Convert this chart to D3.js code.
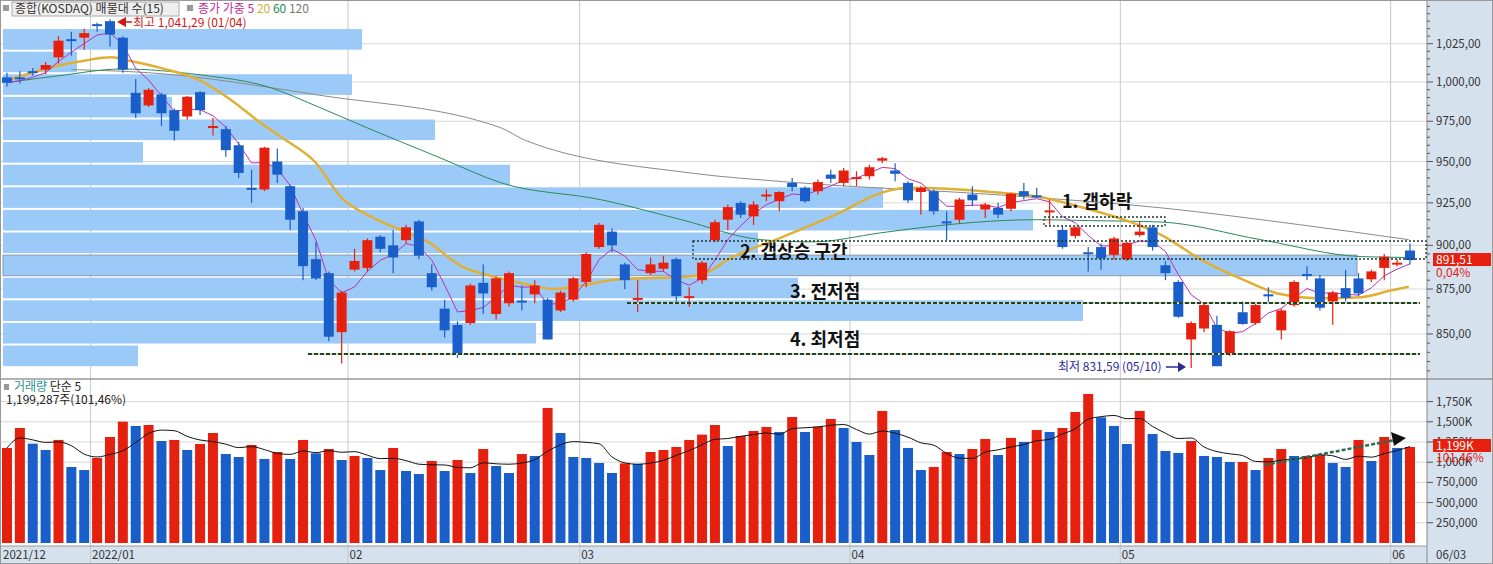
<!DOCTYPE html>
<html><head><meta charset="utf-8">
<script src="https://cdn.jsdelivr.net/npm/d3@7"></script>
<style>body{margin:0;background:#fff}svg{display:block;font-family:"Noto Sans CJK KR","Noto Sans",sans-serif}</style>
</head><body><svg id="c" width="1493" height="564"></svg>
<script>
const openP=[1003,1003,1007,1008,1016,1028,1029,1038,1040,1029,993,985,992,982,978,993.5,971,970,960,934,933,950,935,920,892,884,851,886,887,905,900,903,914,884,864,855,856,878.5,861,867,868.5,872,869,863,869,879,899,908,889,869,884,886.5,892,870,880,903,915,925,917,929.5,926,937,934,932,942,937,940,941,950.5,944.5,937,931.5,932,914,915,930,921,922,921.5,932,929.5,920,909,905.5,896,899,894.5,892,906,910.5,888.5,879,847,853,855,839,862,856,872,852,866,883.5,881,868,875.5,881,880.5,887,889.5,897];
const highP=[1006,1007,1009,1013,1030,1033,1035,1039,1041.29,1030,1002,996,993,983,991,994,977,972,962,945,959,958,936,922,902,885,874,898,904,906,909,912,915,889,869,857,878,889,882,885,877,880,870,874,882,896,913,910,890,880,893,894,893,876,891,915,924,926,926,933,932,940,935,939,945,946,944,948,953,949,938,935,933,920,928,935,925,925,931,937,934,927,911,911,899,901,905,902,914,912,891,880,857,867,860,852,868,867,876,864,880,888,883,874,886,884,886,895,892,901];
const lowP=[997,999,1004,1005,1012,1017,1021,1033,1023,1006,977,984,972,963,976,979,966,953,940,925,932,937,909,880,880,846,834,885,885,896,884,901,892,874,848,837,855,861,858,865,863,867,847,862,868,876,898,896,875,862,883,885,868,865,878,902,909,916,912,926,920,932,925,930,937,935,935,939,949,938,925,918,918,903,913,923,916,916,920,927,928,912,898,904,885,886,892,891,905,897,880,859,831.59,851,833,838,855,855,867,847,865,880,863,855,868,871,879,880,888,889];
const closeP=[999.5,1002,1006,1011,1027,1027,1032,1037.5,1031,1008,980,995,980,969,990.5,982,972,957,943,933.5,958.5,942,915,888,881,848.5,873,891,903,898,893,910.5,894,876,852,839.5,877,872.5,881,884,868,877,847,873,881,895,912,900,880,870,889,890,871,871,890,913.5,922.5,918,924,930,931.5,934.5,926,937.5,939.5,944.5,940.5,946.5,952,942.5,926.5,934,920,913.5,927,926.5,924,918,930.5,929,929,920.5,899,910.5,895.5,892.5,904,901.5,908,899,884,859.5,856,866,832.5,851.5,855.5,866,871.5,863,879,883,864.5,873,870,872.5,885,893.5,890,891.51];
const volumeK=[1176,1423,1229,1151,1275,941,903,1052,1312,1502,1448,1460,1262,1275,1151,1225,1361,1101,1064,1213,1040,1126,1040,1275,1110,1163,1027,1077,1052,903,1176,891,854,1015,891,1027,866,1163,953,866,1101,1077,1671,1361,1064,1052,990,866,986,978,1126,1151,1188,1275,1341,1460,1200,1324,1386,1436,1374,1559,1374,1440,1535,1423,1250,1089,1634,1398,1176,903,941,1126,1101,1163,1287,1089,1300,1250,1398,1374,1423,1621,1844,1555,1448,1225,1634,1349,1139,1114,1262,1077,1064,1002,1002,903,1052,1163,1077,1077,1089,990,941,1275,1015,1312,1176,1188];
const ma20Pts=[[0,1001],[4.2,1011],[6.1,1014],[8.1,1016],[9.1,1014.5],[12,1009],[15,1001],[17.4,988.5],[19.7,974],[21.5,964],[23.9,950],[26,928],[28.5,916],[30.6,909],[32.7,902],[35.3,888],[37.8,882],[40.2,878],[42.5,875],[44.6,877],[47.7,880.7],[52.4,881.8],[53.9,883],[56.3,893],[60.1,904.4],[64.8,919.5],[67.9,931],[70.2,934],[74,933],[77.2,931],[80.3,928.5],[83.4,922.5],[87.3,913.6],[89.7,906],[92.8,891.6],[95.9,880.7],[99,872],[102.1,869.8],[105.2,870.4],[107.5,874.2],[108.9,876.3]];
const ma60Pts=[[0.3,1000],[4,1004],[8.9,1008.4],[15.1,1004.5],[20.3,996.8],[24.2,984],[28,970.8],[33.7,952.1],[38.4,937],[46.2,926.8],[52.4,915],[58.6,903.3],[62.5,902],[67.9,907.3],[70.2,909.6],[80,915],[84,914.5],[89.7,913.6],[97.4,903.3],[105.2,893.5],[108.9,893]];
const ma120Pts=[[5,1008],[11,1006],[24.2,991.6],[38.4,970.8],[40.2,963.3],[53.1,943],[60.7,937.5],[77.2,929.7],[89.7,922],[100.5,912],[108.9,903.3]];
const profileVol=[359,74,349,169,432,140,507,880,1030,755,1354,795,1080,533,135];
const profileTop=1035.4, profileBottom=832;
const monthIdx=[7,27,45,66,87,108];
const monthLbl=["2022/01","02","03","04","05","06"];
const priceTicks=[850,875,900,925,950,975,1000,1025];
const volTicks=[250,500,750,1000,1250,1500,1750];

const svg=d3.select("#c");
const RED="#e5200e",BLUE="#1a5ec9";
const x=d3.scaleLinear().domain([0,109]).range([7,1410]);
const y=d3.scaleLog().domain([826.2,1054.3]).range([378,0]);
const yv=d3.scaleLinear().domain([0,2017]).range([543,380]);
const n=closeP.length;
// frame
svg.append("rect").attr("x",1427).attr("y",0).attr("width",66).attr("height",564).attr("fill","#d6e1ee");
svg.append("rect").attr("x",0).attr("y",546).attr("width",1427).attr("height",18).attr("fill","#d6e1ee");
// grid
const g=svg.append("g");
priceTicks.forEach(t=>g.append("line").attr("x1",0).attr("x2",1427).attr("y1",y(t)).attr("y2",y(t)).attr("stroke","#d8d8d8"));
volTicks.forEach(t=>g.append("line").attr("x1",0).attr("x2",1427).attr("y1",yv(t)).attr("y2",yv(t)).attr("stroke","#d8d8d8"));
monthIdx.forEach(i=>g.append("line").attr("x1",x(i)-6.5).attr("x2",x(i)-6.5).attr("y1",0).attr("y2",564).attr("stroke","#c8c8c8"));
// volume profile
const pb=d3.range(16).map(k=>Math.exp(Math.log(profileTop)-k*(Math.log(profileTop)-Math.log(profileBottom))/15));
const pw=d3.scaleLinear().domain([0,1400]).range([0,1400]);
profileVol.forEach((v,k)=>{
  svg.append("rect").attr("x",3).attr("y",y(pb[k])+1).attr("width",pw(v)).attr("height",y(pb[k+1])-y(pb[k])-2)
   .attr("fill","#9ccaf8").attr("stroke",v===d3.max(profileVol)?"#8a9aaa":"none");
});
// MAs
const line=d3.line().x(d=>x(d[0])).y(d=>y(d[1])).curve(d3.curveMonotoneX);
svg.append("path").attr("d",line(ma120Pts)).attr("fill","none").attr("stroke","#8a8a8a").attr("stroke-width",1);
svg.append("path").attr("d",line(ma60Pts)).attr("fill","none").attr("stroke","#2a8a5a").attr("stroke-width",1);
svg.append("path").attr("d",line(ma20Pts)).attr("fill","none").attr("stroke","#e0b035").attr("stroke-width",2.5);
const wma=closeP.map((c,i)=>{let s=0,w=0;for(let k=0;k<5&&i-k>=0;k++){s+=closeP[i-k]*(5-k);w+=5-k;}return [i,s/w];});
svg.append("path").attr("d",d3.line().x(d=>x(d[0])).y(d=>y(d[1]))(wma)).attr("fill","none").attr("stroke","#b82fb8").attr("stroke-width",1);
// candles
for(let i=0;i<n;i++){
  const up=closeP[i]>=openP[i], col=up?RED:BLUE, cx=x(i);
  svg.append("line").attr("x1",cx).attr("x2",cx).attr("y1",y(highP[i])).attr("y2",y(lowP[i])).attr("stroke",col).attr("stroke-width",1.2);
  const t=y(Math.max(openP[i],closeP[i])),b=y(Math.min(openP[i],closeP[i]));
  svg.append("rect").attr("x",cx-5).attr("y",t).attr("width",10).attr("height",Math.max(2,b-t)).attr("fill",col);
}
// volume bars
for(let i=0;i<n;i++){
  const col=(i===0||volumeK[i]>=volumeK[i-1])?RED:BLUE;
  svg.append("rect").attr("x",x(i)-5).attr("y",yv(volumeK[i])).attr("width",10).attr("height",yv(0)-yv(volumeK[i])).attr("fill",col);
}
const vma=volumeK.map((v,i)=>{const s=volumeK.slice(Math.max(0,i-4),i+1);return [i,d3.mean(s)];});
svg.append("path").attr("d",d3.line().x(d=>x(d[0])).y(d=>yv(d[1])).curve(d3.curveMonotoneX)(vma)).attr("fill","none").attr("stroke","#111").attr("stroke-width",1);
// panel separator
svg.append("line").attr("x1",0).attr("x2",1493).attr("y1",379).attr("y2",379).attr("stroke","#999").attr("stroke-width",1.5);
svg.append("line").attr("x1",1427).attr("x2",1427).attr("y1",0).attr("y2",564).attr("stroke","#888");
svg.append("line").attr("x1",0).attr("x2",1427).attr("y1",546).attr("y2",546).attr("stroke","#999");
svg.append("rect").attr("x",0.5).attr("y",0.5).attr("width",1492).attr("height",563).attr("fill","none").attr("stroke","#999");
// dashed annotations
function dash(x1,y1,x2,y2){
  svg.append("line").attr("x1",x1).attr("x2",x2).attr("y1",y1).attr("y2",y2).attr("stroke","#e8d890").attr("stroke-width",2.2);
  svg.append("line").attr("x1",x1).attr("x2",x2).attr("y1",y1).attr("y2",y2).attr("stroke","#14443a").attr("stroke-width",2.2).attr("stroke-dasharray","4,2");
}
dash(627,303,1420,303); dash(308,354,1420,354);
function dbox(x1,y1,x2,y2){svg.append("rect").attr("x",x1).attr("y",y1).attr("width",x2-x1).attr("height",y2-y1).attr("fill","none").attr("stroke","#1a3a30").attr("stroke-width",1.3).attr("stroke-dasharray","2,2");}
dbox(693,241,1426,259); dbox(1044,217,1165,226);
svg.append("line").attr("x1",1265).attr("y1",465).attr("x2",1395).attr("y2",440).attr("stroke","#2a6a50").attr("stroke-width",2.5).attr("stroke-dasharray","4,2");
svg.append("path").attr("d","M1406,438 L1391,432 L1394,446 Z").attr("fill","#111");
const big=(t,xx,yy)=>svg.append("text").attr("x",xx).attr("y",yy).attr("font-size",18).attr("font-weight","bold").attr("fill","#111").text(t);
big("1. 갭하락",1062,208); big("2. 갭상승 구간",740,258); big("3. 전저점",790,298); big("4. 최저점",790,346);
// high/low labels
svg.append("path").attr("d","M117,22 L126,17 L126,27 Z").attr("fill","#d01818");
svg.append("line").attr("x1",124).attr("x2",132).attr("y1",22).attr("y2",22).attr("stroke","#d01818").attr("stroke-width",1.5);
svg.append("text").attr("x",133).attr("y",27).attr("font-size",12).attr("fill","#d01818").text("최고 1,041,29 (01/04)");
svg.append("text").attr("x",1058).attr("y",371).attr("font-size",12).attr("fill","#2a2a9a").text("최저 831,59 (05/10)");
svg.append("line").attr("x1",1166).attr("x2",1180).attr("y1",367).attr("y2",367).attr("stroke","#2a2a9a").attr("stroke-width",1.5);
svg.append("path").attr("d","M1186,367 L1178,362 L1178,372 Z").attr("fill","#2a2a9a");
// legends
svg.append("rect").attr("x",3).attr("y",5).attr("width",6).attr("height",6).attr("fill","#999");
svg.append("rect").attr("x",12).attr("y",2).attr("width",167).attr("height",14).attr("fill","#eee").attr("stroke","#aaa");
svg.append("text").attr("x",15).attr("y",13).attr("font-size",12).attr("fill","#333").text("종합(KOSDAQ) 매물대 수(15)");
svg.append("rect").attr("x",187).attr("y",5).attr("width",6).attr("height",6).attr("fill","#999");
const lg=svg.append("text").attr("x",198).attr("y",13).attr("font-size",12);
lg.append("tspan").attr("fill","#c0289a").text("종가 가중 5 ");
lg.append("tspan").attr("fill","#d4b030").text("20 ");
lg.append("tspan").attr("fill","#2a8a5a").text("60 ");
lg.append("tspan").attr("fill","#777").text("120");
svg.append("rect").attr("x",4).attr("y",384).attr("width",5).attr("height",6).attr("fill","#999");
const vl=svg.append("text").attr("x",14).attr("y",391).attr("font-size",12);
vl.append("tspan").attr("fill","#2a9090").text("거래량 ");vl.append("tspan").attr("fill","#222").text("단순 5");
svg.append("text").attr("x",6).attr("y",404).attr("font-size",12).attr("fill","#222").text("1,199,287주(101,46%)");
// right axes
const fmt=v=>d3.format(",.2f")(v).replace(/\.(\d\d)$/,",$1");
d3.range(830,1051,5).forEach(t=>{const major=priceTicks.includes(t);svg.append("line").attr("x1",1427).attr("x2",1427+(major?6:3)).attr("y1",y(t)).attr("y2",y(t)).attr("stroke","#555");});
priceTicks.forEach(t=>svg.append("text").attr("x",1436).attr("y",y(t)+4).attr("font-size",11.5).attr("fill","#333").text(fmt(t)));
volTicks.forEach(t=>{svg.append("line").attr("x1",1427).attr("x2",1433).attr("y1",yv(t)).attr("y2",yv(t)).attr("stroke","#555");
  svg.append("text").attr("x",1436).attr("y",yv(t)+4).attr("font-size",11.5).attr("fill","#333").text(t>=1000?d3.format(",")(t)+"K":d3.format(",")(t*1000));});
const last=n-1;
svg.append("rect").attr("x",1433).attr("y",y(closeP[last])-7).attr("width",58).attr("height",13).attr("fill","#e5200e");
svg.append("text").attr("x",1436).attr("y",y(closeP[last])+4).attr("font-size",12).attr("fill","#fff").text(fmt(closeP[last]));
svg.append("text").attr("x",1436).attr("y",y(closeP[last])+17).attr("font-size",12).attr("fill","#e5200e").text("0,04%");
svg.append("rect").attr("x",1433).attr("y",yv(volumeK[last])-8).attr("width",58).attr("height",13).attr("fill","#e5200e");
svg.append("text").attr("x",1436).attr("y",yv(volumeK[last])+3).attr("font-size",12).attr("fill","#fff").text("1,199K");
svg.append("text").attr("x",1436).attr("y",yv(volumeK[last])+15).attr("font-size",12).attr("fill","#e5200e").text("101,46%");
// bottom labels
svg.append("text").attr("x",3).attr("y",559).attr("font-size",11.5).attr("fill","#333").text("2021/12");
monthIdx.forEach((i,k)=>svg.append("text").attr("x",x(i)-5).attr("y",559).attr("font-size",11.5).attr("fill","#333").text(monthLbl[k]));
svg.append("text").attr("x",1436).attr("y",559).attr("font-size",11.5).attr("fill","#333").text("06/03");
</script></body></html>
